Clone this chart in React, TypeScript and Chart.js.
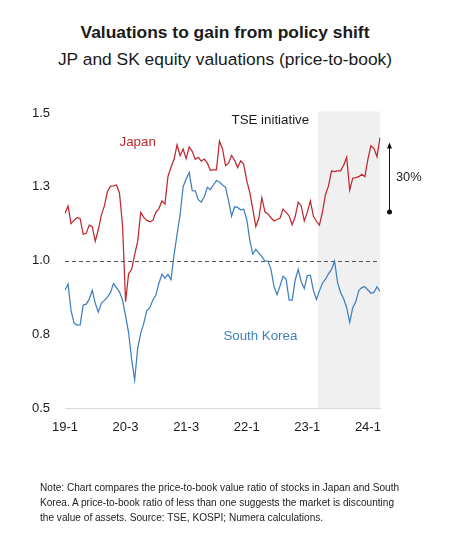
import React, { useEffect, useRef } from 'react';
import { Chart, registerables } from 'chart.js';

Chart.register(...registerables);

const FONT = '"Liberation Sans", Arial, Helvetica, sans-serif';

const xTickLabels = ['19-1', '20-3', '21-3', '22-1', '23-1', '24-1'];
const pointsPerTick = 20;

const japan = [
  1.160, 1.185, 1.125, 1.136, 1.146, 1.142, 1.089, 1.092, 1.120, 1.115,
  1.065, 1.105, 1.154, 1.185, 1.233, 1.252, 1.253, 1.256, 1.228, 1.118,
  0.860, 0.955, 0.970, 1.020, 1.065, 1.163, 1.146, 1.136, 1.131, 1.136,
  1.163, 1.176, 1.202, 1.191, 1.285, 1.316, 1.343, 1.392, 1.355, 1.378,
  1.345, 1.385, 1.370, 1.343, 1.350, 1.337, 1.344, 1.330, 1.306, 1.307,
  1.307, 1.405, 1.378, 1.322, 1.330, 1.356, 1.340, 1.315, 1.338, 1.326,
  1.271, 1.231, 1.174, 1.115, 1.143, 1.213, 1.165, 1.158, 1.145, 1.134,
  1.139, 1.143, 1.174, 1.163, 1.151, 1.121, 1.149, 1.198, 1.185, 1.134,
  1.163, 1.202, 1.151, 1.133, 1.120, 1.165, 1.223, 1.253, 1.304, 1.301,
  1.304, 1.304, 1.323, 1.350, 1.239, 1.279, 1.281, 1.284, 1.292, 1.284,
  1.343, 1.389, 1.380, 1.352, 1.417,
];

const southKorea = [
  0.900, 0.920, 0.830, 0.788, 0.781, 0.782, 0.849, 0.852, 0.869, 0.899,
  0.855, 0.825, 0.855, 0.865, 0.876, 0.891, 0.922, 0.908, 0.893, 0.866,
  0.812, 0.755, 0.665, 0.595, 0.703, 0.753, 0.787, 0.830, 0.840, 0.866,
  0.882, 0.923, 0.953, 0.940, 0.953, 0.935, 1.019, 1.089, 1.155, 1.250,
  1.276, 1.298, 1.237, 1.236, 1.206, 1.198, 1.216, 1.248, 1.240, 1.256,
  1.271, 1.266, 1.256, 1.248, 1.202, 1.150, 1.182, 1.180, 1.172, 1.174,
  1.140, 1.070, 1.022, 1.038, 1.025, 1.013, 0.998, 0.998, 0.970, 0.912,
  0.884, 0.914, 0.947, 0.936, 0.866, 0.866, 0.934, 0.970, 0.928, 0.905,
  0.948, 0.950, 0.900, 0.868, 0.897, 0.923, 0.937, 0.955, 0.970, 0.998,
  0.925, 0.891, 0.870, 0.840, 0.790, 0.840, 0.860, 0.898, 0.908, 0.911,
  0.900, 0.889, 0.892, 0.911, 0.895,
];

const yTicks = [0.5, 0.75, 1.0, 1.25, 1.5];
const parityLevel = 1.0;
const tseStartIndex = 83.5;
const arrowFromValue = 1.164;
const arrowToValue = 1.40;
const arrowLabel = '30%';

const categories = japan.map((_, i) =>
  i % pointsPerTick === 0 ? xTickLabels[i / pointsPerTick] ?? '' : ''
);

const RED = '#C0282E';
const BLUE = '#3F7FBD';
const TEXT = '#1a1a1a';

const textLabels = [
  { text: 'Japan', idx: 24, value: 1.40, color: RED },
  { text: 'South Korea', idx: 64.5, value: 0.744, color: BLUE },
  { text: 'TSE initiative', idx: 67.8, value: 1.476, color: TEXT },
];

const overlayPlugin = {
  id: 'overlay',
  beforeDatasetsDraw(chart: any) {
    const { ctx, chartArea: a, scales } = chart;
    const x = scales.x;
    const y = scales.y;
    ctx.save();
    const sx = x.getPixelForValue(tseStartIndex);
    ctx.fillStyle = '#F0F0F0';
    ctx.fillRect(sx, a.top - 1.5, a.right - sx, a.bottom - a.top + 1.5);
    const py = Math.round(y.getPixelForValue(parityLevel)) + 0.5;
    ctx.strokeStyle = '#555555';
    ctx.lineWidth = 1;
    ctx.setLineDash([4, 3]);
    ctx.beginPath();
    ctx.moveTo(a.left, py);
    ctx.lineTo(a.right, py);
    ctx.stroke();
    ctx.restore();
  },
  afterDatasetsDraw(chart: any) {
    const { ctx, chartArea: a, scales } = chart;
    const x = scales.x;
    const y = scales.y;
    ctx.save();
    ctx.font = `13.3px ${FONT}`;
    ctx.textAlign = 'center';
    ctx.textBaseline = 'middle';
    for (const l of textLabels) {
      ctx.fillStyle = l.color;
      ctx.fillText(l.text, x.getPixelForValue(l.idx), y.getPixelForValue(l.value));
    }
    const ax = a.right + 9.5;
    const yTop = y.getPixelForValue(arrowToValue);
    const yBot = y.getPixelForValue(arrowFromValue);
    ctx.strokeStyle = '#111';
    ctx.fillStyle = '#111';
    ctx.lineWidth = 1;
    ctx.beginPath();
    ctx.moveTo(ax, yBot);
    ctx.lineTo(ax, yTop + 5);
    ctx.stroke();
    ctx.beginPath();
    ctx.moveTo(ax, yTop);
    ctx.lineTo(ax - 2.5, yTop + 6);
    ctx.lineTo(ax + 2.5, yTop + 6);
    ctx.closePath();
    ctx.fill();
    ctx.beginPath();
    ctx.arc(ax, yBot, 2.5, 0, Math.PI * 2);
    ctx.fill();
    ctx.fillStyle = TEXT;
    ctx.textAlign = 'left';
    ctx.font = `12.8px ${FONT}`;
    ctx.fillText(arrowLabel, a.right + 16, (yTop + yBot) / 2);
    ctx.restore();
  },
};

export default function App() {
  const ref = useRef<HTMLCanvasElement | null>(null);

  useEffect(() => {
    if (!ref.current) return;
    const chart = new Chart(ref.current, {
      type: 'line',
      data: {
        labels: categories,
        datasets: [
          {
            label: 'Japan',
            data: japan,
            borderColor: RED,
            borderWidth: 1.25,
            pointRadius: 0,
            tension: 0,
          },
          {
            label: 'South Korea',
            data: southKorea,
            borderColor: BLUE,
            borderWidth: 1.25,
            pointRadius: 0,
            tension: 0,
          },
        ],
      },
      options: {
        animation: false,
        responsive: false,
        maintainAspectRatio: false,
        layout: { padding: { left: 0, right: 70, top: 113, bottom: 0 } },
        plugins: {
          legend: { display: false },
          tooltip: { enabled: false },
        },
        scales: {
          x: {
            type: 'category',
            grid: { display: false, drawTicks: false },
            border: { display: true, color: '#D9D9D9', width: 1 },
            ticks: {
              autoSkip: false,
              maxRotation: 0,
              minRotation: 0,
              padding: 12,
              color: TEXT,
              font: { family: FONT, size: 13 },
            },
            afterFit(s: any) {
              s.height = 135;
            },
          },
          y: {
            min: 0.5,
            max: 1.5,
            afterBuildTicks(s: any) {
              s.ticks = yTicks.map((v) => ({ value: v }));
            },
            grid: { display: false, drawTicks: false },
            border: { display: false },
            ticks: {
              padding: 15,
              color: TEXT,
              font: { family: FONT, size: 13 },
              callback: (v: any) => Number(v).toFixed(1),
            },
            afterFit(s: any) {
              s.width = 65;
            },
          },
        },
      },
      plugins: [overlayPlugin],
    });
    return () => chart.destroy();
  }, []);

  return (
    <div style={{ position: 'absolute', left: 0, top: 0, width: 450, height: 543, background: '#fff', fontFamily: FONT, color: TEXT }}>
      <div style={{ position: 'absolute', left: 0, top: 21, width: 450, textAlign: 'center', fontSize: 17.4, lineHeight: '22px', fontWeight: 'bold', whiteSpace: 'nowrap' }}>
        Valuations to gain from policy shift
      </div>
      <div style={{ position: 'absolute', left: 0, top: 48, width: 450, textAlign: 'center', fontSize: 17.4, lineHeight: '22px', whiteSpace: 'nowrap' }}>
        JP and SK equity valuations (price-to-book)
      </div>
      <canvas ref={ref} width={450} height={543} style={{ position: 'absolute', left: 0, top: 0, width: 450, height: 543 }} />
      <div style={{ position: 'absolute', left: 40, top: 479.5, fontSize: 10.1, lineHeight: '15px', color: '#222', whiteSpace: 'nowrap' }}>
        <div>Note: Chart compares the price-to-book value ratio of stocks in Japan and South</div>
        <div>Korea. A price-to-book ratio of less than one suggests the market is discounting</div>
        <div>the value of assets. Source: TSE, KOSPI; Numera calculations.</div>
      </div>
    </div>
  );
}
